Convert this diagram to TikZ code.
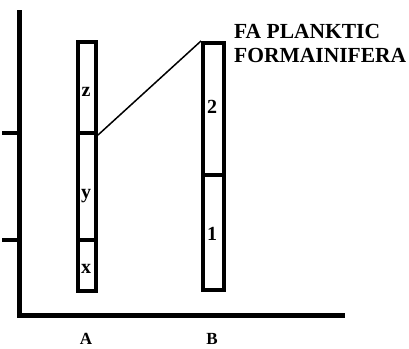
\documentclass[tikz,border=0pt]{standalone}
\usepackage{fontspec}
\setmainfont{Liberation Serif}
\begin{document}
\begin{tikzpicture}[x=1bp,y=-1bp,
  axis/.style={line width=5bp},
  col/.style={draw,line width=4bp,minimum width=20bp,inner sep=0pt},
  lbl/.style={font=\bfseries\fontsize{20bp}{22bp}\selectfont,inner sep=0pt,anchor=base},
  axlbl/.style={font=\bfseries\fontsize{17bp}{19bp}\selectfont,inner sep=0pt,anchor=base},
  title/.style={font=\bfseries\fontsize{21.5bp}{24bp}\selectfont,inner sep=0pt,anchor=base west}]
\useasboundingbox (0,0) rectangle (409,349);
% axes
\coordinate (ytop) at (19.5,12);
\coordinate (orig) at (19.5,315);
\coordinate (xend) at (342,315);
\draw[axis,line cap=rect] (ytop) -- (orig) -- (xend);
\coordinate (t1) at (2,133);
\coordinate (t1e) at (19.5,133);
\coordinate (t2) at (2,240);
\coordinate (t2e) at (19.5,240);
\draw[line width=4bp] (t1) -- (t1e);
\draw[line width=4bp] (t2) -- (t2e);
% column A
\node[col,minimum width=18bp,minimum height=91bp] (Az) at (87,87.5) {};
\node[col,minimum width=18bp,minimum height=107bp] (Ay) at (87,186.5) {};
\node[col,minimum width=18bp,minimum height=51bp] (Ax) at (87,265.5) {};
\node[lbl] (lz) at (86,96) {z};
\node[lbl] (ly) at (86,198) {y};
\node[lbl] (lx) at (86,273) {x};
% column B
\node[col,minimum width=21bp,minimum height=132bp] (B2) at (213.5,109) {};
\node[col,minimum width=21bp,minimum height=115bp] (B1) at (213.5,232.5) {};
\node[lbl] (l2) at (212,113) {2};
\node[lbl] (l1) at (212,240) {1};
% connector
\draw[line width=1.5bp] (Az.south east) -- (B2.north west);
% title
\node[title] (fa1) at (234,38) {FA PLANKTIC};
\node[title] (fa2) at (234,62) {FORMAINIFERA};
% axis labels
\node[axlbl] (la) at (86,344) {A};
\node[axlbl] (lb) at (212,344) {B};
\end{tikzpicture}
\end{document}
